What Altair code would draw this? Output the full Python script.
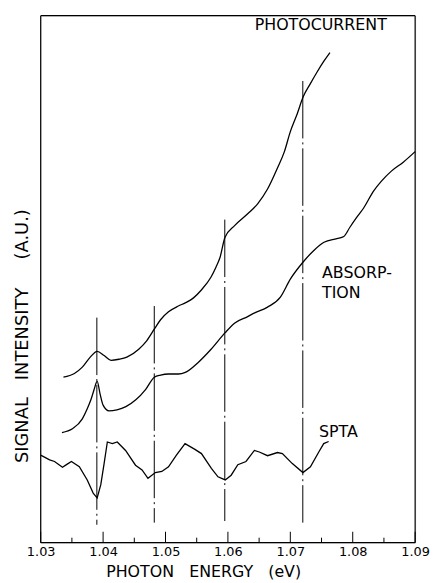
import altair as alt
import pandas as pd

# ---- data (energy in eV, intensity in arbitrary units) ----
pc_energy = [1.03365, 1.03540, 1.03667, 1.03794, 1.03905, 1.04016, 1.04127, 1.04254, 1.04381,
             1.04571, 1.04698, 1.04825, 1.04921, 1.05048, 1.05206, 1.05317, 1.05444, 1.05571,
             1.05730, 1.05810, 1.05873, 1.05952, 1.06111, 1.06317, 1.06476, 1.06635, 1.06794,
             1.06905, 1.07000, 1.07111, 1.07206, 1.07317, 1.07429, 1.07540, 1.07635]
pc_intensity = [31.4, 32.1, 33.3, 35.2, 36.3, 35.5, 34.6, 34.8, 35.2,
                36.7, 38.3, 40.6, 42.3, 43.8, 44.9, 45.5, 46.4, 47.9,
                50.4, 52.3, 54.1, 57.9, 60.2, 62.4, 64.3, 67.1, 71.1,
                74.2, 78.0, 81.4, 84.6, 87.0, 89.3, 91.4, 93.0]

abs_energy = [1.03341, 1.03508, 1.03667, 1.03746, 1.03810, 1.03857, 1.03905, 1.03952, 1.04000,
              1.04095, 1.04222, 1.04365, 1.04524, 1.04683, 1.04821, 1.04921, 1.05048, 1.05206,
              1.05317, 1.05524, 1.05730, 1.05952, 1.06111, 1.06317, 1.06429, 1.06635, 1.06841,
              1.07000, 1.07202, 1.07381, 1.07540, 1.07746, 1.07857, 1.07952, 1.08063, 1.08175,
              1.08333, 1.08460, 1.08619, 1.08810, 1.09000]
abs_intensity = [20.9, 21.6, 23.5, 25.4, 27.3, 29.1, 30.6, 28.2, 26.1,
                 25.0, 25.2, 25.8, 27.1, 29.1, 31.4, 31.8, 32.0, 32.0,
                 32.3, 34.2, 36.7, 39.8, 41.7, 42.9, 43.6, 44.7, 46.6,
                 50.0, 53.2, 55.5, 57.0, 57.7, 58.1, 59.8, 61.7, 63.5,
                 66.7, 68.6, 70.5, 72.2, 74.2]

spta_energy = [1.03000, 1.03143, 1.03222, 1.03349, 1.03413, 1.03492, 1.03619, 1.03746, 1.03841,
               1.03905, 1.03963, 1.04016, 1.04068, 1.04148, 1.04227, 1.04360, 1.04519, 1.04624,
               1.04719, 1.04837, 1.04941, 1.05048, 1.05175, 1.05313, 1.05471, 1.05576, 1.05735,
               1.05841, 1.05957, 1.06052, 1.06159, 1.06290, 1.06424, 1.06503, 1.06635, 1.06794,
               1.06873, 1.07032, 1.07202, 1.07322, 1.07456, 1.07535, 1.07614]
spta_intensity = [16.6, 15.7, 15.4, 14.3, 14.8, 15.4, 14.4, 11.9, 9.4,
                  8.5, 11.0, 15.0, 19.1, 18.8, 19.1, 17.5, 14.7, 13.8,
                  12.2, 13.3, 13.5, 14.4, 16.6, 18.8, 17.7, 16.9, 14.1,
                  12.5, 11.9, 12.8, 14.8, 15.4, 17.5, 17.2, 16.5, 17.1,
                  16.9, 15.0, 13.3, 14.4, 17.2, 18.8, 19.2]

marker_energy = [1.0390, 1.0482, 1.0595, 1.0720]
marker_top = [42.7, 44.9, 61.3, 87.6]
marker_bottom = [3.4, 3.8, 4.1, 3.8]

major_ticks = [1.03, 1.04, 1.05, 1.06, 1.07, 1.08, 1.09]
minor_ticks = [1.035, 1.045, 1.055, 1.065, 1.075, 1.085]

label_text = ["PHOTOCURRENT", "ABSORP-", "TION", "SPTA"]
label_energy = [1.06429, 1.07508, 1.07508, 1.07460]
label_intensity = [97.2, 50.2, 46.4, 20.1]

# ---- tables ----
curves_df = pd.concat([
    pd.DataFrame({"energy": pc_energy, "intensity": pc_intensity, "series": "photocurrent",
                  "order": range(len(pc_energy))}),
    pd.DataFrame({"energy": abs_energy, "intensity": abs_intensity, "series": "absorption",
                  "order": range(len(abs_energy))}),
])
spta_df = pd.DataFrame({"energy": spta_energy, "intensity": spta_intensity,
                        "order": range(len(spta_energy))})
markers_df = pd.DataFrame({"energy": marker_energy, "intensity": marker_top,
                           "intensity_end": marker_bottom})
major_df = pd.DataFrame({"energy": major_ticks})
minor_df = pd.DataFrame({"energy": minor_ticks})
labels_df = pd.DataFrame({"energy": label_energy, "intensity": label_intensity,
                          "label": label_text})

FONT = "DejaVu Sans"
NB = "\u00a0"
W, H = 378, 532
xscale = alt.Scale(domain=[1.03, 1.09], nice=False, zero=False)
yscale = alt.Scale(domain=[0, 100], nice=False, zero=False)

x_axis = alt.Axis(
    values=major_ticks, format=".2f", grid=False, domain=False, ticks=False, tickSize=0,
    labelFont=FONT, labelFontSize=13, labelColor="black", labelPadding=3,
    labelFlush=False, labelOverlap=False,
    title="PHOTON" + NB * 3 + "ENERGY" + NB * 3 + "(eV)", titleFont=FONT, titleFontSize=16,
    titleFontWeight="normal", titleColor="black", titleX=164, titleY=34,
    titleAlign="center", titleBaseline="alphabetic",
)
y_axis = alt.Axis(
    labels=False, ticks=False, domain=False, grid=False,
    title="SIGNAL" + NB * 3 + "INTENSITY" + NB * 5 + "(A.U.)", titleFont=FONT, titleFontSize=18,
    titleFontWeight="normal", titleColor="black", titleAngle=270, titleX=-18, titleY=323,
    titleAlign="center", titleBaseline="middle",
)

curves = alt.Chart(curves_df).mark_line(color="black", strokeWidth=1.3, interpolate="monotone").encode(
    x=alt.X("energy:Q", scale=xscale, axis=x_axis),
    y=alt.Y("intensity:Q", scale=yscale, axis=y_axis),
    detail="series:N",
    order="order:Q",
)

spta = alt.Chart(spta_df).mark_line(color="black", strokeWidth=1.3).encode(
    x=alt.X("energy:Q", scale=xscale),
    y=alt.Y("intensity:Q", scale=yscale),
    order="order:Q",
)

markers = alt.Chart(markers_df).mark_rule(color="black", strokeWidth=1,
                                          strokeDash=[58, 4, 2, 4]).encode(
    x=alt.X("energy:Q", scale=xscale),
    y=alt.Y("intensity:Q", scale=yscale),
    y2="intensity_end:Q",
)

major = alt.Chart(major_df).mark_rule(color="black", strokeWidth=1).encode(
    x=alt.X("energy:Q", scale=xscale),
    y=alt.value(H), y2=alt.value(H - 11),
)
minor = alt.Chart(minor_df).mark_rule(color="black", strokeWidth=1).encode(
    x=alt.X("energy:Q", scale=xscale),
    y=alt.value(H), y2=alt.value(H - 5),
)

labels = alt.Chart(labels_df).mark_text(font=FONT, fontSize=16, color="black",
                                         align="left", baseline="alphabetic").encode(
    x=alt.X("energy:Q", scale=xscale),
    y=alt.Y("intensity:Q", scale=yscale),
    text="label:N",
)

# plot frame
frame_top = alt.Chart().mark_rule(color="black", strokeWidth=1.2).encode(
    x=alt.value(0), x2=alt.value(W), y=alt.value(0))
frame_bottom = alt.Chart().mark_rule(color="black", strokeWidth=1.2).encode(
    x=alt.value(0), x2=alt.value(W), y=alt.value(H))
frame_left = alt.Chart().mark_rule(color="black", strokeWidth=1.2).encode(
    y=alt.value(0), y2=alt.value(H), x=alt.value(0))
frame_right = alt.Chart().mark_rule(color="black", strokeWidth=1.2).encode(
    y=alt.value(0), y2=alt.value(H), x=alt.value(W))

chart = alt.layer(curves, spta, markers, major, minor, labels,
                  frame_top, frame_bottom, frame_left, frame_right).properties(
    width=W, height=H,
    autosize=alt.AutoSizeParams(type="none"),
    padding={"left": 33, "top": 5, "right": 15, "bottom": 37},
).configure_view(stroke="black", strokeWidth=1.2).configure(background="white")

chart.save("out.html", embed_options={"renderer": "svg", "actions": False})
